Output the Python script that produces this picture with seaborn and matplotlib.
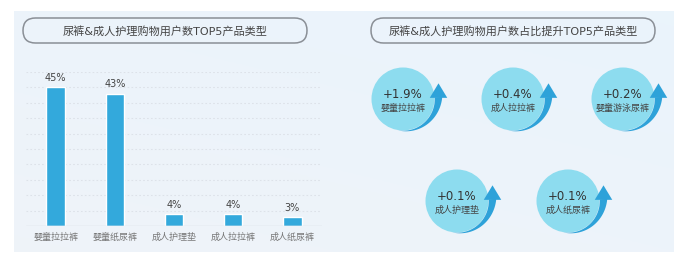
import numpy as np
import pandas as pd
import matplotlib
matplotlib.use("Agg")
import matplotlib.pyplot as plt
import seaborn as sns
from matplotlib.patches import FancyBboxPatch, Circle, Polygon

# data
bar_categories = ["婴童拉拉裤", "婴童纸尿裤", "成人护理垫", "成人拉拉裤", "成人纸尿裤"]
bar_values = [45, 43, 4, 4, 3]

rise_categories = ["婴童拉拉裤", "成人拉拉裤", "婴童游泳尿裤", "成人护理垫", "成人纸尿裤"]
rise_values = [1.9, 0.4, 0.2, 0.1, 0.1]

left_title = "尿裤&成人护理购物用户数TOP5产品类型"
right_title = "尿裤&成人护理购物用户数占比提升TOP5产品类型"

# style
sns.set_theme(style="white")
# latin glyphs from DejaVu (wider, like the reference), CJK from Noto
plt.rcParams["font.family"] = ["DejaVu Sans", "Noto Sans CJK SC"]

bar_color = "#33a9dc"
circle_color = "#8ddcef"
arrow_color = "#2ea2d9"

W, H = 678, 264
fig = plt.figure(figsize=(W / 100, H / 100), dpi=100)
fig.patch.set_facecolor("white")

# background axes in pixel coordinates
bg = fig.add_axes([0, 0, 1, 1], zorder=0)
bg.set_xlim(0, W)
bg.set_ylim(H, 0)
bg.axis("off")

# light blue gradient panel
gx = np.linspace(0, 1, 200)
gy = np.linspace(0, 1, 100)
GX, GY = np.meshgrid(gx, gy)
c1 = np.array([0.918, 0.957, 0.988])
c2 = np.array([0.937, 0.953, 0.976])
t = (0.6 * GY + 0.4 * (1 - GX))[..., None]
grad = c1 * (1 - t) + c2 * t
bg.imshow(grad, extent=(14, 674, 252, 11), aspect="auto", zorder=0)

# title pills
for x0, x1, txt in [(23, 307, left_title), (371, 655, right_title)]:
    pill = FancyBboxPatch((x0, 18), x1 - x0, 25,
                          boxstyle="round,pad=0,rounding_size=12.5",
                          facecolor="none", edgecolor="#8a8f96", linewidth=1.1, zorder=2)
    bg.add_patch(pill)
    bg.text((x0 + x1) / 2, 31, txt, ha="center", va="center",
            fontsize=8, color="#444444", zorder=3)

# bar chart
ax = fig.add_axes([26 / W, (H - 226) / H, 296 / W, 154 / H], zorder=1)
ax.patch.set_alpha(0)
df = pd.DataFrame({"cat": bar_categories, "val": bar_values})
sns.barplot(data=df, x="cat", y="val", color=bar_color, width=0.31,
            saturation=1, ax=ax, zorder=3)
ax.set_ylim(0, 50)
ax.set_xlim(-0.5, 4.5)
for yv in range(5, 51, 5):
    ax.axhline(yv, color="#dde2e9", linewidth=0.8, linestyle=(0, (1.5, 2)), zorder=1)
ax.axhline(0, color="#d5dbe2", linewidth=1, zorder=4)
for p, v in zip(ax.patches, bar_values):
    ax.annotate(f"{v}%", (p.get_x() + p.get_width() / 2, p.get_height()),
                xytext=(0, 3), textcoords="offset points", ha="center", va="bottom",
                fontsize=7, color="#444444")
ax.set_xlabel("")
ax.set_ylabel("")
ax.set_yticks([])
ax.tick_params(axis="x", length=0, pad=5, labelsize=6.5, labelcolor="#777777")
for s in ax.spines.values():
    s.set_visible(False)

# rising circles with arrows
centers = [(403, 99), (513, 99), (623, 99), (457, 201), (568, 201)]
r = 31.5
for (cx, cy), val, lab in zip(centers, rise_values, rise_categories):
    bg.add_patch(Circle((cx, cy), r, facecolor=circle_color, edgecolor="none", zorder=2))
    th = np.radians(np.linspace(-100, 3, 60))
    tt = np.linspace(0, 1, 60)
    r_in = r + 0.3
    r_out = r + 0.3 + 7.5 * tt ** 1.3
    inner = np.column_stack([cx + r_in * np.cos(th), cy - r_in * np.sin(th)])
    outer = np.column_stack([cx + r_out * np.cos(th), cy - r_out * np.sin(th)])
    shaft = np.vstack([inner, outer[::-1]])
    bg.add_patch(Polygon(shaft, closed=True, facecolor=arrow_color, edgecolor="none", zorder=3))
    ex_in, ey = inner[-1]
    ex_out = outer[-1][0]
    head = [(ex_in - 5, ey + 0.5), ((ex_in + ex_out) / 2, ey - 14), (ex_out + 5, ey + 0.5)]
    bg.add_patch(Polygon(head, closed=True, facecolor=arrow_color, edgecolor="none", zorder=3))
    bg.text(cx, cy - 5, f"+{val}%", ha="center", va="center", fontsize=8.5,
            color="#333333", zorder=4)
    bg.text(cx, cy + 9, lab, ha="center", va="center", fontsize=6.5,
            color="#444444", zorder=4)

fig.savefig("out.png", dpi=100)
